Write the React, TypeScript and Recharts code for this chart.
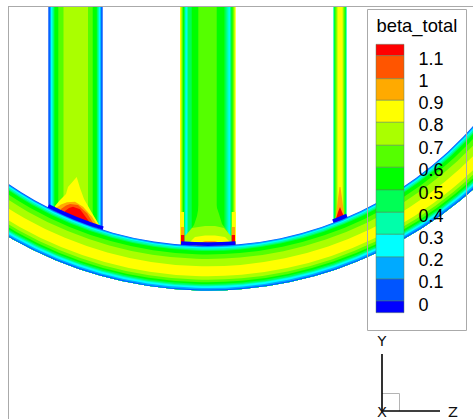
import React from "react";
import { ComposedChart, PieChart, Pie, Area, Line, Scatter, XAxis, YAxis, ReferenceArea } from "recharts";

const W = 473, H = 419;
const BLUE="#0000ff", B1="#0055ff", B2="#00aaff", CY="#00ffff", S1="#00ffaa", S2="#00ff55", G0="#00ff00", G1="#55ff00", G2="#aaff00", YE="#ffff00", O1="#ffaa00", O2="#ff5500", RE="#ff0000";

// wall (pipe) contour strips, outer first: [x from, x to, colour]
const leftPipeStrips: [number, number, string][] = [[48.3,102.7,B1],[49.8,101.2,B2],[51,100.2,CY],[52.3,99,S1],[53.5,97.8,S2],[54.5,96.8,G0],[58.3,92.7,G1],[63.5,88,G2]];
const midPipeStrips: [number, number, string][] = [[180,235.7,YE],[181,234.7,G2],[182,233.7,G1],[183,232.5,G0],[184,231.5,S2],[185,230.7,S1],[185.7,229.8,CY],[186.8,228.5,S1],[188,226.5,S2],[191.7,224.5,G0],[198.3,216.7,G1]];
const rightPipeStrips: [number, number, string][] = [[333.3,346.7,S1],[334.3,345.7,G0],[335.2,344.8,G1],[336.5,343.6,G2],[337.6,342.6,YE]];

// hot spots: outline x, top value
const leftYellowX = [55,60,66,68,76.7,80,84,92,101];
const leftYellowTop = [206,200,194,187,177,188,199,213,228];
const leftOrangeX = [56,61,67,75,83,92,99];
const leftOrangeTop = [208,204.5,202.3,201.7,206.7,216.7,228];
const leftRedOrangeX = [61,66,70,78,87,95];
const leftRedOrangeTop = [209,205.5,204,205,213.3,226];
const leftRedX = [65,69,73,80,88,92];
const leftRedTop = [211,208,206.7,209.3,220,226];

const midGreenX = [189,194,197,199,216,219,222,228];
const midGreenTop = [232,225,216,205,205,214,224,232];
const midLimeX = [185,192,205,215,224,231];
const midLimeTop = [236,228,226,226,228,236];
const midYellowX = [190,195,205,215,225,230];
const midYellowTop = [242,237,235.5,235.5,237,242];
const midOrangeX = [197,205,215,223];
const midOrangeTop = [244,241,241,244];

const rightOrangeX = [335,337,339.5,340.5,343,345];
const rightOrangeTop = [222,206,187,187,206,220];
const rightRedX = [335,338,340,342,345];
const rightRedTop = [222,212,207,212,219];

// ring contours, painted from the inner wall outwards
const ringInner = [353.2,353.9,354.8,356,357.5,358.5,362,366.5,373.8,383.8,387.2,389.8,391.5,392.8,393.8,395.5,397];
const ringColor = [B1,B2,CY,S1,S2,G0,G1,G2,YE,G2,G1,G0,S2,S1,CY,B2,B1];
const ringOuter = 398;
const wallBars: [number, number][] = [[-117,-107.35],[-94.4,-85.5],[-69.2,-66.74]];

// legend
const legendTicks = ["1.1","1","0.9","0.8","0.7","0.6","0.5","0.4","0.3","0.2","0.1","0"];
const legendTickY = [59,81,103,125,148,170,193,215.7,238,260,282,305];
const legendEdges = [44.3,55.7,78.7,100.3,122.3,145.3,167.3,190,212.3,234.3,257,279,301,312.7];
const legendColors = [RE,O2,O1,YE,G2,G1,G0,S2,S1,CY,B2,B1,BLUE];

const strip = (a: number, b: number, top: number, bot: number) => [{ x: a, v: [top, bot] }, { x: b, v: [top, bot] }];
const hot = (xs: number[], tops: number[], bot: number) => xs.map((x, i) => ({ x, v: [tops[i], bot] }));

const Poly = (data: any[], fill: string, key: string) => (
  <Area key={key} data={data} dataKey="v" type="linear" stroke="none" fill={fill} fillOpacity={1} dot={false} activeDot={false} isAnimationActive={false} />
);
const axes = (
  [<XAxis key="xa" dataKey="x" type="number" domain={[0, W]} hide allowDataOverflow />,
   <YAxis key="ya" dataKey="y" type="number" domain={[0, H]} reversed hide allowDataOverflow />]
);
const layer: React.CSSProperties = { position: "absolute", left: 0, top: 0 };
const margin = { top: 0, right: 0, bottom: 0, left: 0 };

const Label = ({ cx, cy, payload }: any) => (
  <text x={cx} y={cy} fontFamily={payload.font} fontSize={payload.size} fill={payload.fill} textAnchor={payload.anchor}>{payload.label}</text>
);
const Seg = (pts: number[][], stroke: string, w: number, key: string) => (
  <Line key={key} data={pts.map(([x, y]) => ({ x, y }))} dataKey="y" type="linear" stroke={stroke} strokeWidth={w} dot={false} activeDot={false} isAnimationActive={false} />
);
const SANS = "'Liberation Sans', Arial, sans-serif";
const DEJA = "'DejaVu Sans', sans-serif";
const textRows = [
  { x: 376.5, y: 32, label: "beta_total", font: SANS, size: 18.4, fill: "#000", anchor: "start" },
  ...legendTicks.map((label, i) => ({ x: 418.5, y: legendTickY[i] + 6.4, label, font: SANS, size: 18, fill: "#000", anchor: "start" })),
  { x: 382, y: 346, label: "Y", font: DEJA, size: 14.5, fill: "#111", anchor: "middle" },
  { x: 453, y: 416.5, label: "Z", font: DEJA, size: 14.5, fill: "#111", anchor: "middle" },
  { x: 382, y: 417, label: "X", font: DEJA, size: 14.5, fill: "#111", anchor: "middle" },
];

export default function App() {
  return (
    <div style={{ position: "absolute", left: 0, top: 0, width: W, height: H, background: "#fff", overflow: "hidden" }}>
      <div style={layer}>
        <ComposedChart width={W} height={H} margin={margin}>
          {axes}
          {leftPipeStrips.map(([a, b, c], i) => Poly(strip(a, b, 7, 235), c, "l" + i))}
          {Poly(hot(leftYellowX, leftYellowTop, 235), YE, "ly")}
          {Poly(hot(leftOrangeX, leftOrangeTop, 235), O1, "lo")}
          {Poly(hot(leftRedOrangeX, leftRedOrangeTop, 235), O2, "lro")}
          {Poly(hot(leftRedX, leftRedTop, 235), RE, "lr")}
          {midPipeStrips.map(([a, b, c], i) => Poly(strip(a, b, 7, 248), c, "m" + i))}
          {Poly(hot(midGreenX, midGreenTop, 248), G1, "mg")}
          {Poly(hot(midLimeX, midLimeTop, 248), G2, "ml")}
          {Poly(hot(midYellowX, midYellowTop, 248), YE, "my")}
          {Poly(hot(midOrangeX, midOrangeTop, 248), O1, "mo")}
          {Poly(strip(180, 184, 212, 248), YE, "s1")}
          {Poly(strip(181, 184.3, 227, 248), O1, "s2")}
          {Poly(strip(181, 184.3, 235, 248), RE, "s3")}
          {Poly(strip(231.7, 235.7, 212, 248), YE, "s4")}
          {Poly(strip(231.7, 235, 227, 248), O1, "s5")}
          {Poly(strip(231.7, 235, 235, 248), RE, "s6")}
          {rightPipeStrips.map(([a, b, c], i) => Poly(strip(a, b, 7, 225), c, "r" + i))}
          {Poly(hot(rightOrangeX, rightOrangeTop, 225), O1, "ro")}
          {Poly(hot(rightRedX, rightRedTop, 225), RE, "rr")}
        </ComposedChart>
      </div>
      <div style={{ position: "absolute", left: 8, top: 0, width: W - 8, height: H, overflow: "hidden" }}>
        <PieChart width={W - 8} height={H} margin={margin}>
          {ringInner.map((r, i) => (
            <Pie key={"ring" + i} data={[{ name: "band", value: 1 }]} dataKey="value" cx={200} cy={-107.5} innerRadius={r} outerRadius={ringOuter} startAngle={-140} endAngle={-30} stroke="none" fill={ringColor[i]} isAnimationActive={false} labelLine={false} />
          ))}
          {wallBars.map(([a, b], i) => (
            <Pie key={"bar" + i} data={[{ name: "wall", value: 1 }]} dataKey="value" cx={200} cy={-107.5} innerRadius={349.8} outerRadius={353.4} startAngle={a} endAngle={b} stroke="none" fill={BLUE} isAnimationActive={false} labelLine={false} />
          ))}
        </PieChart>
      </div>
      <div style={layer}>
        <ComposedChart width={W} height={H} margin={margin}>
          {axes}
          {Seg([[8, 6.5], [473, 6.5]], "#aaaaaa", 1, "ft")}
          {Seg([[8.5, 6.5], [8.5, 419]], "#aaaaaa", 1, "fl")}
          {Seg([[367.5, 9.5], [466.5, 9.5], [466.5, 330.5], [367.5, 330.5], [367.5, 9.5]], "#aaaaaa", 1, "box")}
          {legendColors.map((c, i) => (
            <ReferenceArea key={"c" + i} x1={376} x2={404} y1={legendEdges[i]} y2={legendEdges[i + 1]} fill={c} fillOpacity={1} stroke="#5a7a5a" strokeOpacity={0.6} strokeWidth={0.8} ifOverflow="visible" />
          ))}
          {Seg([[382, 393.5], [399.5, 393.5], [399.5, 411]], "#b4b4b4", 1, "sq")}
          <Scatter data={textRows} shape={Label} isAnimationActive={false} />
          {Seg([[382, 354], [382, 411], [440, 411]], "#000000", 1.6, "triad")}
        </ComposedChart>
      </div>
    </div>
  );
}
